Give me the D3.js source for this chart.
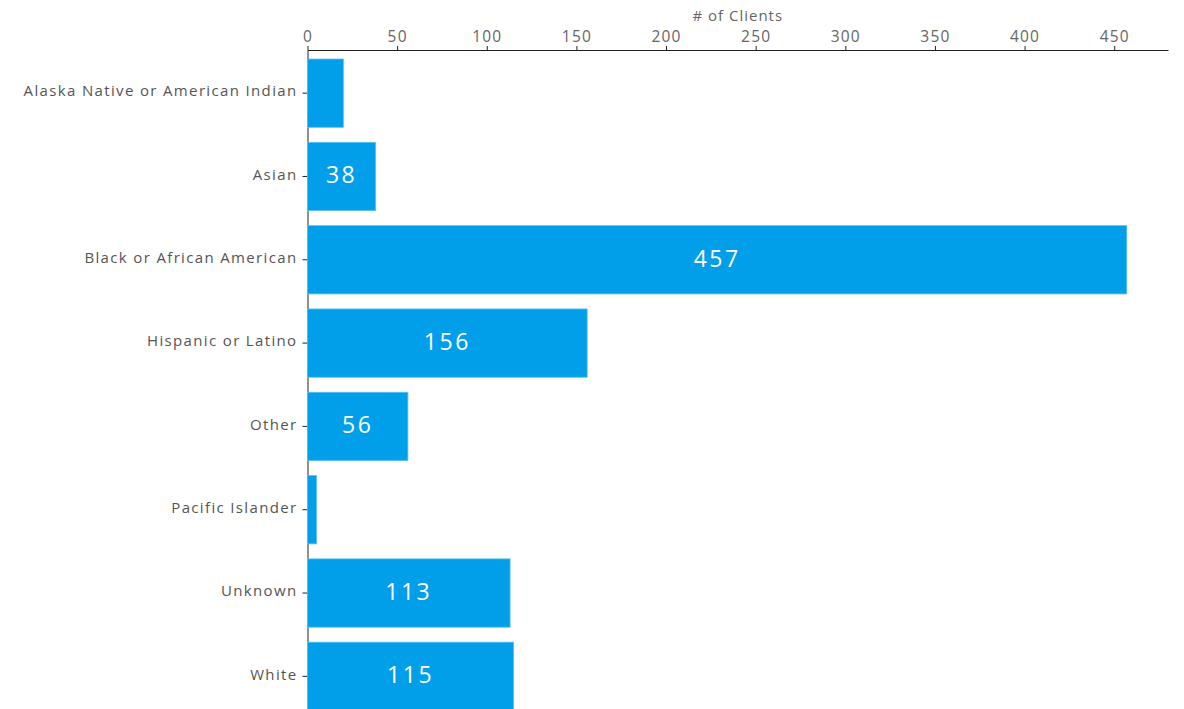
<!DOCTYPE html>
<html><head><meta charset="utf-8">
<script src="https://cdn.jsdelivr.net/npm/d3@7"></script>
<style>body{margin:0;background:#fff;} text{font-family:"Open Sans", sans-serif;}</style>
</head><body>
<svg id="c" width="1184" height="709"></svg>
<script>
const categories = ["Alaska Native or American Indian","Asian","Black or African American","Hispanic or Latino","Other","Pacific Islander","Unknown","White"];
const values = [20, 38, 457, 156, 56, 5, 113, 115];
const xTicks = [0,50,100,150,200,250,300,350,400,450];
const xTitle = "# of Clients";

const rows = categories.map((c,i)=>({cat:c, val:values[i]}));

const svg = d3.select("#c");
const x = d3.scaleLinear().domain([0,480]).range([307.5,1168]);
const y = d3.scaleBand().domain(categories).range([50,719.5]).paddingInner(0.18).paddingOuter(0.108);

const xa = svg.append("g").attr("transform","translate(0,50)")
  .call(d3.axisTop(x).tickValues(xTicks).tickSize(4).tickSizeOuter(0));
xa.select(".domain").attr("stroke","#222");
xa.selectAll(".tick line").attr("stroke","#222");
xa.selectAll(".tick text").attr("fill","#666").style("font-size","15.5px").style("letter-spacing","1.2px").attr("y",-8);

const ya = svg.append("g").attr("transform","translate(307.5,0)")
  .call(d3.axisLeft(y).tickSize(5).tickSizeOuter(0));
ya.select(".domain").attr("stroke","#222");
ya.selectAll(".tick line").attr("stroke","#222");
ya.selectAll(".tick text").attr("fill","#555").style("font-size","15px").style("letter-spacing","1.35px").attr("x",-10).attr("dy","0.22em");

svg.selectAll("rect.bar").data(rows).enter().append("rect")
  .attr("class","bar")
  .attr("x", x(0))
  .attr("y", d=>y(d.cat))
  .attr("width", d=>x(d.val)-x(0))
  .attr("height", y.bandwidth())
  .attr("fill","#019fea")
  .attr("stroke","#5cc0f2").attr("stroke-width",0.8);

svg.selectAll("text.val").data(rows.filter(d=>x(d.val)-x(0)>50)).enter().append("text")
  .attr("class","val")
  .attr("x", d=>(x(d.val)+x(0))/2)
  .attr("y", d=>y(d.cat)+y.bandwidth()/2)
  .attr("dy","0.3em")
  .attr("text-anchor","middle")
  .attr("fill","#fff")
  .style("font-size","23px")
  .style("letter-spacing","2.5px")
  .text(d=>d.val);

svg.append("text").attr("x",(x.range()[0]+x.range()[1])/2).attr("y",21)
  .attr("text-anchor","middle").attr("fill","#666").style("font-size","15px").style("letter-spacing","1px").text(xTitle);
</script>
</body></html>
